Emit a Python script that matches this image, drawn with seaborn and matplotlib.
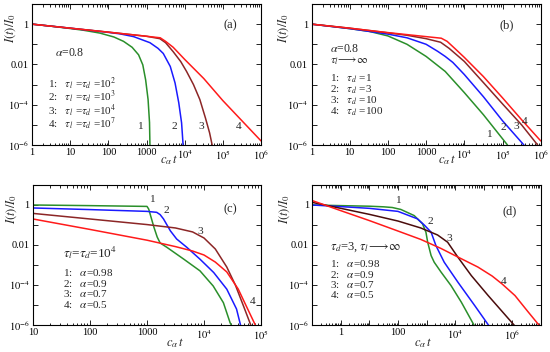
import numpy as np
import matplotlib
matplotlib.use("Agg")
import matplotlib.pyplot as plt
from matplotlib.ticker import LogLocator, NullFormatter
import seaborn as sns

sns.set_style("ticks")
plt.rcParams["font.family"] = ["Liberation Serif", "DejaVu Serif"]
plt.rcParams["mathtext.fontset"] = "stix"

# colours of the four curves
colors = ["#2a8f2a", "#1a1aff", "#8c2626", "#ff1a1a"]

# (a) alpha=0.8, tau_l = tau_d = 1e2, 1e3, 1e4, 1e7
a_x1 = [1, 3, 8, 22, 60, 140, 250, 420, 620, 800, 950, 1100, 1200, 1230]
a_y1 = [1.0, 0.80, 0.64, 0.50, 0.36, 0.23, 0.14, 0.071, 0.030, 0.0095, 0.0017, 1.8e-4, 1.3e-5, 1e-6]
a_x2 = [1, 10, 100, 200, 460, 1230, 2000, 2750, 4200, 5600, 7000, 8300, 9100]
a_y2 = [1.0, 0.63, 0.39, 0.33, 0.24, 0.12, 0.063, 0.035, 0.0079, 0.0012, 1.26e-4, 1.26e-5, 1e-6]
a_x3 = [1, 100, 1000, 2240, 3160, 5000, 7900, 11200, 17000, 25000, 35000, 45000, 52500]
a_y3 = [1.0, 0.40, 0.25, 0.19, 0.12, 0.043, 0.0138, 0.0045, 0.001, 1.8e-4, 2.2e-5, 4e-6, 1e-6]
a_x4 = [1, 10, 100, 1000, 2290, 3160, 5000, 10000, 31600, 100000, 316000, 1000000]
a_y4 = [1.0, 0.63, 0.40, 0.25, 0.21, 0.14, 0.071, 0.0178, 0.002, 1.6e-4, 1.6e-5, 1.6e-6]

# (b) alpha=0.8, tau_l -> inf, tau_d = 1, 3, 10, 100
b_x1 = [1, 3, 10, 32, 100, 316, 1000, 3160, 10000, 31600, 135000]
b_y1 = [1.0, 0.79, 0.60, 0.44, 0.26, 0.10, 0.025, 0.0045, 4e-4, 3.2e-5, 1e-6]
b_x2 = [1, 10, 100, 316, 1000, 2000, 3160, 5000, 10000, 31600, 100000, 363000]
b_y2 = [1.0, 0.60, 0.32, 0.21, 0.10, 0.045, 0.025, 0.0126, 0.00316, 2.5e-4, 1.6e-5, 1e-6]
b_x3 = [1, 10, 100, 316, 1000, 2400, 4000, 10000, 31600, 100000, 316000, 832000]
b_y3 = [1.0, 0.63, 0.37, 0.28, 0.19, 0.126, 0.063, 0.0141, 0.00126, 1.1e-4, 1e-5, 1e-6]
b_x4 = [1, 10, 100, 1000, 2500, 3550, 5600, 10000, 31600, 100000, 316000, 1000000]
b_y4 = [1.0, 0.63, 0.38, 0.24, 0.20, 0.14, 0.063, 0.0224, 0.0025, 2.2e-4, 1.8e-5, 1.6e-6]

# (c) tau_l = tau_d = 1e4, alpha = 0.98, 0.9, 0.7, 0.5
c_x1 = [10, 100, 1000, 1070, 1175, 1320, 1510, 1700, 2240, 4370, 8500, 14500, 21900, 28800, 30200]
c_y1 = [1.0, 0.93, 0.85, 0.63, 0.25, 0.079, 0.025, 0.0126, 0.0076, 0.002, 5.1e-4, 8.9e-5, 1.3e-5, 1.26e-6, 1e-6]
c_x2 = [10, 100, 1000, 1480, 1700, 1950, 2570, 3310, 5010, 8510, 14800, 25100, 37200, 43700]
c_y2 = [0.71, 0.59, 0.48, 0.43, 0.33, 0.20, 0.051, 0.020, 0.0076, 0.00195, 4.2e-4, 6.2e-5, 6.3e-6, 1e-6]
c_x3 = [10, 100, 1000, 3160, 6310, 10000, 15800, 25100, 35500, 50100, 66100]
c_y3 = [0.38, 0.20, 0.105, 0.071, 0.045, 0.0224, 0.0063, 7.9e-4, 1e-4, 7.9e-6, 1e-6]
c_x4 = [10, 100, 1000, 3160, 6310, 10000, 15800, 25100, 39800, 56200, 79400]
c_y4 = [0.20, 0.06, 0.0174, 0.0083, 0.005, 0.00316, 0.0014, 4.5e-4, 6.3e-5, 7.9e-6, 1e-6]

# (d) tau_d = 3, tau_l -> inf, alpha = 0.98, 0.9, 0.7, 0.5
d_x1 = [0.1, 1, 10, 31.6, 63, 126, 372, 724, 955, 1100, 1450, 1860, 3240, 7240, 16600, 46800]
d_y1 = [1.0, 0.93, 0.87, 0.81, 0.75, 0.60, 0.295, 0.115, 0.0437, 0.0138, 0.00295, 0.00138, 4.4e-4, 9.3e-5, 1.38e-5, 9.5e-7]
d_x2 = [0.1, 1, 10, 100, 479, 832, 1450, 2140, 4170, 12600, 49000, 151000]
d_y2 = [1.0, 0.83, 0.68, 0.48, 0.204, 0.10, 0.0437, 0.0093, 0.00138, 1.38e-4, 9.3e-6, 9.5e-7]
d_x3 = [0.1, 1, 10, 100, 631, 2450, 5500, 12600, 37200, 145000, 1200000]
d_y3 = [1.35, 0.68, 0.34, 0.158, 0.071, 0.0316, 0.0138, 0.00245, 2.95e-4, 2.95e-5, 9.5e-7]
d_x4 = [0.1, 1, 10, 100, 631, 3160, 12600, 63100, 200000, 447000, 1260000, 3550000, 8900000]
d_y4 = [1.66, 0.52, 0.166, 0.05, 0.019, 0.0068, 0.0025, 7.9e-4, 2.8e-4, 1.12e-4, 2.95e-5, 4.7e-6, 9.5e-7]

y_ticks = [1e-6, 1e-5, 1e-4, 1e-3, 1e-2, 1e-1, 1, 10]
y_labels = [r"$10^{-6}$", "", r"$10^{-4}$", "", "0.01", "", "1", ""]

W, H = 550, 352
fig = plt.figure(figsize=(W / 100, H / 100), dpi=100)


def make_ax(left, right, top, bottom):
    return fig.add_axes([left / W, 1 - bottom / H, (right - left) / W, (bottom - top) / H])


ax_a = make_ax(32, 261, 4, 145)
ax_b = make_ax(311.5, 540.7, 4, 145)
ax_c = make_ax(33, 261, 185, 325)
ax_d = make_ax(312.3, 540.7, 185, 325)


def draw(ax, xs, ys, cols):
    for x, y, c in zip(xs, ys, cols):
        sns.lineplot(x=x, y=y, ax=ax, color=c, lw=1.1, sort=False,
                     estimator=None, legend=False)


def style(ax, xlim, xticks, xlabels, ylab_x, xlab_x, xlab_y):
    ax.set_xscale("log")
    ax.set_yscale("log")
    ax.set_xlim(xlim)
    ax.set_ylim(1e-6, 10)
    ax.set_xticks(xticks, xlabels)
    ax.xaxis.set_minor_locator(LogLocator(base=10, subs=np.arange(2, 10), numticks=40))
    ax.xaxis.set_minor_formatter(NullFormatter())
    ax.set_yticks(y_ticks, y_labels)
    ax.yaxis.set_minor_locator(LogLocator(base=10, subs=[], numticks=40))
    ax.tick_params(which="both", direction="in", top=True, right=True,
                   labelsize=7.5, width=0.6, pad=2.5, colors="black")
    ax.tick_params(which="major", length=3.5)
    ax.tick_params(which="minor", length=1.8)
    for s in ax.spines.values():
        s.set_linewidth(0.8)
        s.set_color("black")
    ax.set_xlabel("")
    ax.set_ylabel("")
    ax.text(ylab_x, 0.83, r"$I(t)/I_0$", transform=ax.transAxes, rotation=90,
            ha="center", va="center", fontsize=9)
    ax.text(xlab_x, xlab_y, r"$c_{\alpha}\,t$", transform=ax.transAxes,
            ha="center", va="center", fontsize=9)


def put(ax, x, y, s, size=8.2, ha="left", ls=1.0):
    ax.text(x, y, s, transform=ax.transAxes, ha=ha, va="center",
            fontsize=size, linespacing=ls)


dec_labels = {0.1: "", 1: "1", 10: "10", 100: "100", 1000: "1000",
              1e4: r"$10^4$", 1e5: r"$10^5$", 1e6: r"$10^6$", 1e7: ""}

# panel (a)
draw(ax_a, [a_x1, a_x2, a_x3, a_x4], [a_y1, a_y2, a_y3, a_y4], colors)
xt = [1, 10, 100, 1000, 1e4, 1e5, 1e6]
style(ax_a, (1, 1e6), xt, [dec_labels[v] for v in xt], -0.092, 0.6, -0.106)
put(ax_a, 0.865, 0.851, "(a)", 9, "center")
put(ax_a, 0.10, 0.652, r"$\alpha$=0.8", 8.5)
leg_a = [r"1:   $\tau_l$ =$\tau_d$ =10$^2$", r"2:   $\tau_l$ =$\tau_d$ =10$^3$",
         r"3:   $\tau_l$ =$\tau_d$ =10$^4$", r"4:   $\tau_l$ =$\tau_d$ =10$^7$"]
put(ax_a, 0.07, 0.292, "\n".join(leg_a), 8.0, ls=0.74)
for s, fx in zip("1234", [0.472, 0.62, 0.741, 0.901]):
    put(ax_a, fx, 0.13, s, 8.2, "center")

# panel (b)
draw(ax_b, [b_x1, b_x2, b_x3, b_x4], [b_y1, b_y2, b_y3, b_y4], colors)
style(ax_b, (1, 1e6), xt, [dec_labels[v] for v in xt], -0.12, 0.59, -0.106)
put(ax_b, 0.853, 0.852, "(b)", 9, "center")
put(ax_b, 0.08, 0.635, "$\\alpha$=0.8\n$\\tau_l\\!\\longrightarrow\\!\\infty$", 8.5, ls=0.95)
leg_b = [r"1:   $\tau_d$ =1", r"2:   $\tau_d$ =3", r"3:   $\tau_d$ =10", r"4:   $\tau_d$ =100"]
put(ax_b, 0.08, 0.355, "\n".join(leg_b), 8.0, ls=0.82)
for s, fx, fy in zip("1234", [0.776, 0.838, 0.893, 0.93], [0.075, 0.122, 0.134, 0.169]):
    put(ax_b, fx, fy, s, 8.2, "center")

# panel (c)
draw(ax_c, [c_x1, c_x2, c_x3, c_x4], [c_y1, c_y2, c_y3, c_y4], colors)
xt = [10, 100, 1000, 1e4, 1e5]
style(ax_c, (10, 1e5), xt, [dec_labels[v] for v in xt], -0.095, 0.623, -0.128)
put(ax_c, 0.864, 0.826, "(c)", 9, "center")
put(ax_c, 0.133, 0.516, r"$\tau_l$=$\tau_d$=10$^4$", 9.5)
leg_c = [r"1:   $\alpha$=0.98", r"2:   $\alpha$=0.9", r"3:   $\alpha$=0.7", r"4:   $\alpha$=0.5"]
put(ax_c, 0.133, 0.261, "\n".join(leg_c), 8.0, ls=0.93)
for s, fx, fy in zip("1234", [0.52, 0.586, 0.732, 0.962], [0.893, 0.821, 0.671, 0.171]):
    put(ax_c, fx, fy, s, 8.2, "center")

# panel (d)
draw(ax_d, [d_x1, d_x2, d_x3, d_x4], [d_y1, d_y2, d_y3, d_y4],
     ["#2a8f2a", "#1a1aff", "#4a0c0c", "#ff1a1a"])
xt = [0.1, 1, 10, 100, 1000, 1e4, 1e5, 1e6, 1e7]
xl = ["", "1", "", "100", "", r"$10^4$", "", r"$10^6$", ""]
style(ax_d, (0.1, 1e7), xt, xl, -0.12, 0.485, -0.128)
put(ax_d, 0.866, 0.809, "(d)", 9, "center")
put(ax_d, 0.077, 0.559, r"$\tau_d$=3, $\tau_l\!\longrightarrow\!\infty$", 9)
put(ax_d, 0.077, 0.328, "\n".join(leg_c), 8.0, ls=0.9)
for s, fx, fy in zip("1234", [0.376, 0.515, 0.6, 0.836], [0.886, 0.738, 0.619, 0.309]):
    put(ax_d, fx, fy, s, 8.2, "center")

fig.savefig("out.png", dpi=100)
